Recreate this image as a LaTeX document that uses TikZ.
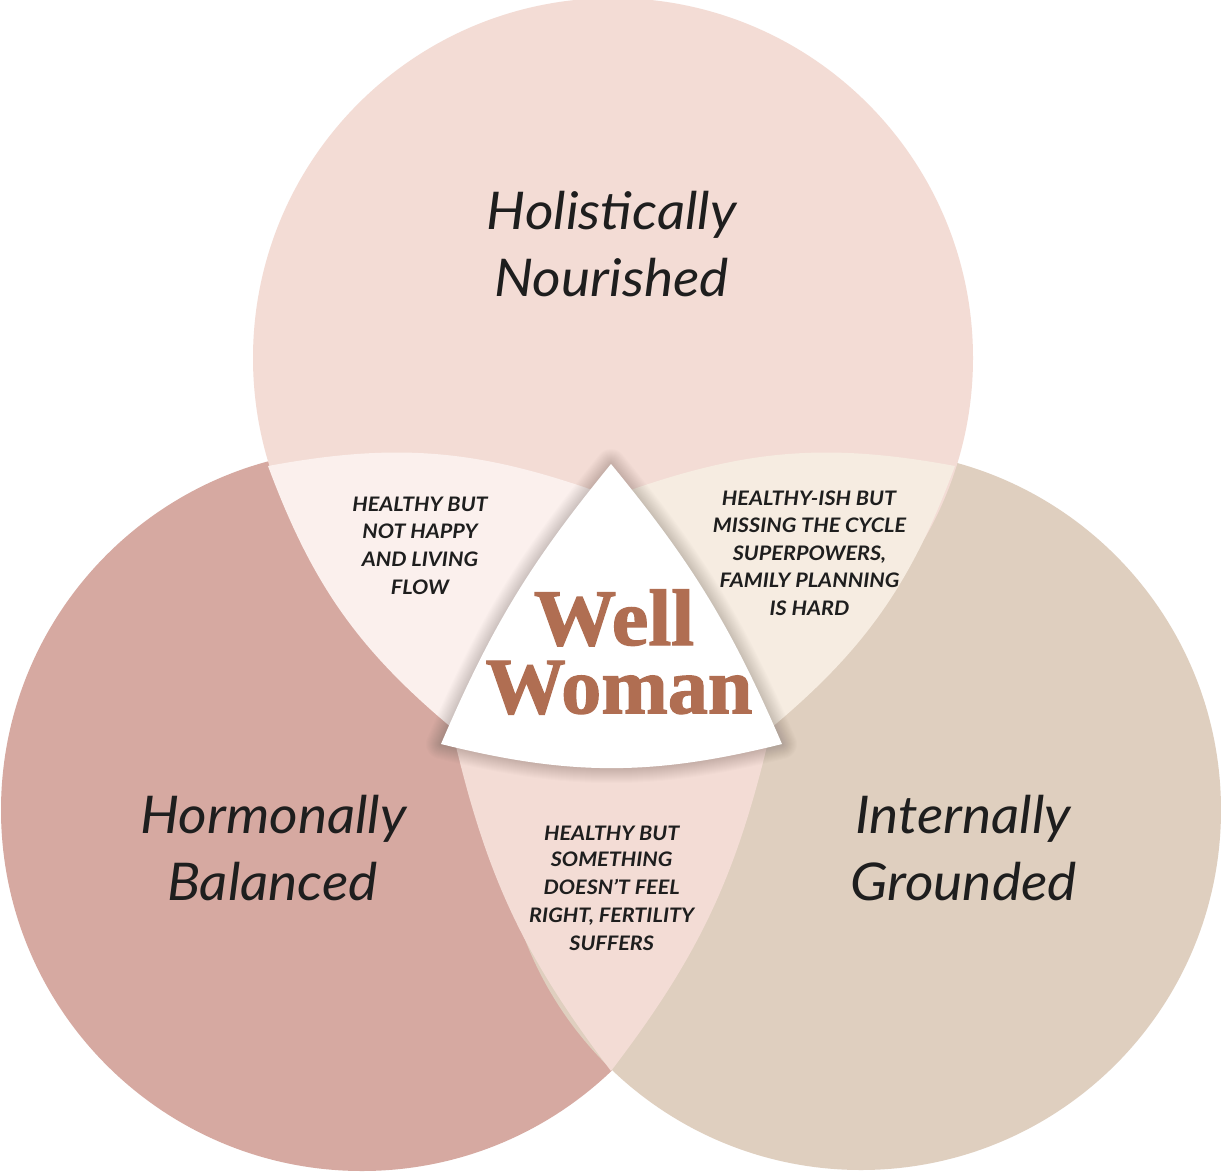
\documentclass[tikz,border=0pt]{standalone}
\usepackage{fontspec}
\newfontfamily\latofont{Lato}
\newfontfamily\wwserif{Liberation Serif}[BoldFeatures={FakeBold=1.6}]
\definecolor{ctopc}{HTML}{F3DCD5}
\definecolor{cleftc}{HTML}{D6A9A1}
\definecolor{crightc}{HTML}{DFCFBF}
\definecolor{tlc}{HTML}{FBF0ED}
\definecolor{trc}{HTML}{F6ECE1}
\definecolor{botc}{HTML}{F3DCD5}
\definecolor{wwc}{HTML}{B06E52}
\definecolor{ink}{HTML}{1E1E1E}
\newcommand\biglabelfont{\latofont\itshape\fontsize{26pt}{30pt}\selectfont}
\newcommand\smalllabelfont{\latofont\bfseries\itshape\fontsize{10pt}{12pt}\selectfont}
\newcommand\wwfont{\wwserif\bfseries\fontsize{40pt}{44pt}\selectfont}
\tikzset{
  biglabel/.style={font=\biglabelfont, text=ink, anchor=base, inner sep=0pt, xscale=1.06},
  smalllabel/.style={font=\smalllabelfont, text=ink, anchor=base, inner sep=0pt, xscale=1.08},
  wwlabel/.style={font=\wwfont, text=wwc, anchor=base, inner sep=0pt},
}
\begin{document}
\begin{tikzpicture}[x=0.5pt,y=-0.5pt]
\useasboundingbox (0,0) rectangle (1221,1173);
\fill[white] (0,0) rectangle (1221,1173);
% circles
\coordinate (Ctop) at (613,358);
\coordinate (Cleft) at (362,810);
\coordinate (Cright) at (861,810);
\fill[cleftc] (Cleft) circle[radius=361];
\fill[crightc] (Cright) circle[radius=360];
\fill[ctopc] (Ctop) circle[radius=360];
% lens regions
\coordinate (V1) at (268,466);
\coordinate (A1) at (458,733);
\coordinate (B1) at (598,492);
\coordinate (V2) at (955,466);
\coordinate (A2) at (765,733);
\coordinate (B2) at (625,492);
\coordinate (VB) at (611,1071);
\coordinate (A3) at (454,738);
\coordinate (B3) at (769,738);
\fill[tlc] (V1) to[bend right=15] (A1) -- (B1) to[bend right=15] (V1) -- cycle;
\fill[trc] (V2) to[bend left=15] (A2) -- (B2) to[bend left=15] (V2) -- cycle;
\fill[botc] (A3) to[bend right=12] (VB) to[bend right=12] (B3) -- cycle;
% central triangle
\coordinate (T) at (611,464);
\coordinate (L) at (441,744);
\coordinate (R) at (782,744);
\def\tripath{(T) to[bend right=8] (L) to[bend right=14] (R) to[bend right=8] (T) -- cycle}
\foreach \w in {1,2,...,15}{
  \draw[black, opacity=0.011, line width=\w pt, line join=round, yshift=-1pt] \tripath;
}
\fill[white] \tripath;
% big labels
\node[biglabel] (hn1) at (611.5,229) {Holistically};
\node[biglabel] (hn2) at (611.5,296.5) {Nourished};
\node[biglabel] (hb1) at (273.5,833) {Hormonally};
\node[biglabel] (hb2) at (272.5,900) {Balanced};
\node[biglabel] (ig1) at (963,833) {Internally};
\node[biglabel] (ig2) at (963.5,900) {Grounded};
% small labels
\node[smalllabel] (tl1) at (420,511.7) {HEALTHY BUT};
\node[smalllabel] (tl2) at (420,538.5) {NOT HAPPY};
\node[smalllabel] (tl3) at (420,566) {AND LIVING};
\node[smalllabel] (tl4) at (420,594) {FLOW};
\node[smalllabel] (tr1) at (809,505) {HEALTHY-ISH BUT};
\node[smalllabel] (tr2) at (809.5,532.3) {MISSING THE CYCLE};
\node[smalllabel] (tr3) at (809.5,560) {SUPERPOWERS,};
\node[smalllabel] (tr4) at (809.5,587.7) {FAMILY PLANNING};
\node[smalllabel] (tr5) at (809.5,615.7) {IS HARD};
\node[smalllabel] (bt1) at (611.7,840) {HEALTHY BUT};
\node[smalllabel] (bt2) at (611.7,866.7) {SOMETHING};
\node[smalllabel] (bt3) at (611.7,894.3) {DOESN’T FEEL};
\node[smalllabel] (bt4) at (611.7,922.3) {RIGHT, FERTILITY};
\node[smalllabel] (bt5) at (611.7,950) {SUFFERS};
% centre title
\node[wwlabel, xscale=1.03] (ww1) at (614,645) {Well};
\node[wwlabel] (ww2) at (619,713.3) {Woman};
\end{tikzpicture}
\end{document}
